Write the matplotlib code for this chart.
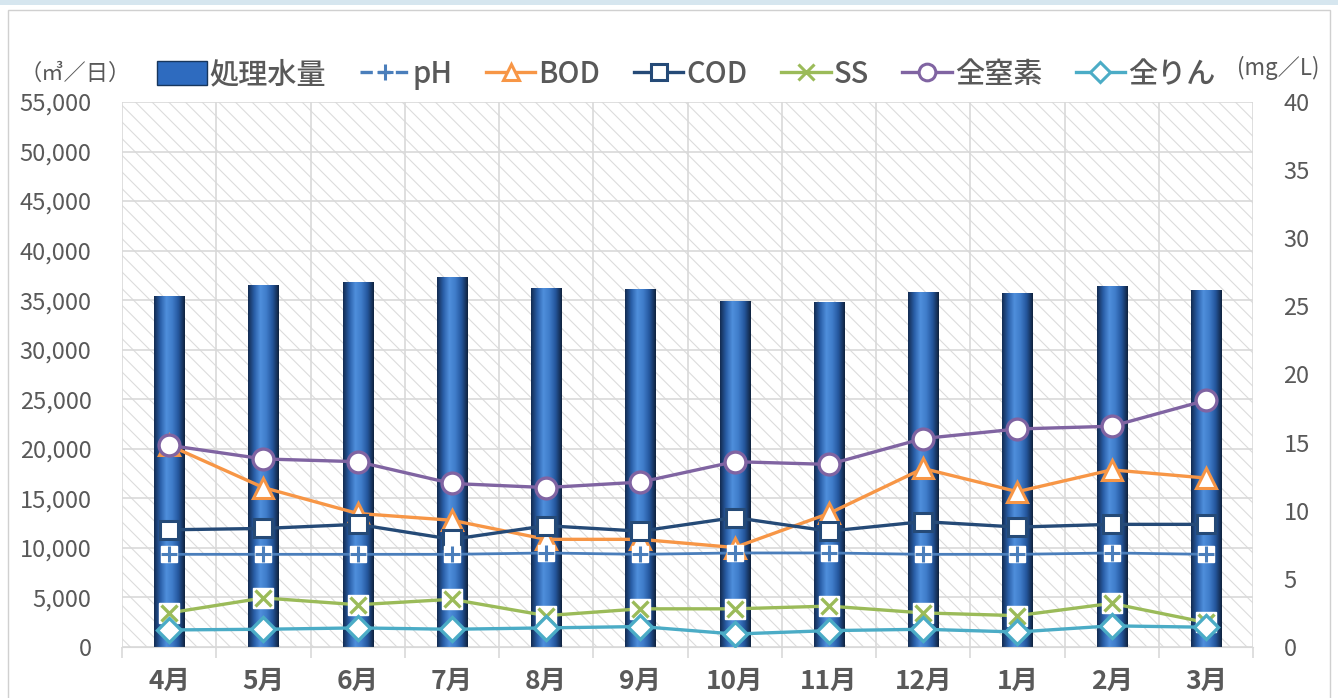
import matplotlib
matplotlib.use("Agg")
import matplotlib.pyplot as plt
import numpy as np
from matplotlib.patches import Rectangle, Patch
from matplotlib.lines import Line2D
from matplotlib.colors import LinearSegmentedColormap
from matplotlib.ticker import FuncFormatter, MultipleLocator

plt.rcParams['font.family'] = ['Noto Sans CJK JP', 'DejaVu Sans']
plt.rcParams['hatch.linewidth'] = 0.8

months = ['4月', '5月', '6月', '7月', '8月', '9月', '10月', '11月', '12月', '1月', '2月', '3月']
flow = [35400, 36500, 36800, 37300, 36200, 36100, 34900, 34800, 35800, 35700, 36400, 36000]
ph = [6.8, 6.8, 6.8, 6.8, 6.9, 6.8, 6.9, 6.9, 6.8, 6.8, 6.9, 6.8]
bod = [14.8, 11.7, 9.8, 9.3, 7.9, 7.9, 7.3, 9.8, 13.1, 11.4, 13.0, 12.4]
cod = [8.6, 8.7, 9.0, 7.9, 8.9, 8.5, 9.5, 8.5, 9.2, 8.8, 9.0, 9.0]
ss = [2.5, 3.6, 3.1, 3.5, 2.3, 2.8, 2.8, 3.0, 2.5, 2.3, 3.2, 1.8]
tn = [14.8, 13.8, 13.6, 12.0, 11.7, 12.1, 13.6, 13.4, 15.3, 16.0, 16.2, 18.1]
tp = [1.25, 1.3, 1.4, 1.3, 1.4, 1.5, 0.95, 1.2, 1.3, 1.1, 1.55, 1.45]

grey = '#595959'
gridc = '#d9d9d9'
c_ph = '#4a7ebb'
c_bod = '#f79646'
c_cod = '#254a77'
c_ss = '#9bbb59'
c_tn = '#8064a2'
c_tp = '#4bacc6'

fig = plt.figure(figsize=(13.38, 6.98), dpi=100)
# frame bits of the screenshot
fig.patches.append(Rectangle((0, 0.993), 1, 0.007, transform=fig.transFigure,
                             facecolor='#d6e6ef', edgecolor='none'))
fig.patches.append(Rectangle((0.006, -0.01), 0.988, 0.996, transform=fig.transFigure,
                             facecolor='none', edgecolor='#d0d0d0', lw=1))

ax = fig.add_axes([0.0912, 0.0731, 0.8453, 0.7808])
x = np.arange(len(months))

# hatched plot area
ax.add_patch(Rectangle((0, 0), 1, 1, transform=ax.transAxes, facecolor='white',
                       edgecolor='#dcdcdc', hatch='\\\\', lw=0, zorder=0))

bars = ax.bar(x, flow, width=0.32, color='#2e6bbf', edgecolor='#17365d', lw=0.5, zorder=2)
cyl = LinearSegmentedColormap.from_list('cyl', ['#132c52', '#2a5fa8', '#4f8fdc',
                                                '#3f7cc9', '#24569c', '#10233f'])
grad = np.linspace(0, 1, 64).reshape(1, -1)
for b in bars:
    im = ax.imshow(grad, extent=[b.get_x(), b.get_x() + b.get_width(), 0, b.get_height()],
                   aspect='auto', cmap=cyl, zorder=2.1)
    im.set_clip_path(b)

ax.set_xlim(-0.5, 11.5)
ax.set_ylim(0, 55000)
ax.yaxis.set_major_locator(MultipleLocator(5000))
ax.yaxis.set_major_formatter(FuncFormatter(lambda v, p: f'{int(v):,}'))
ax.set_xticks(x)
ax.set_xticklabels(months, fontsize=19, fontweight='bold', color=grey)
ax.set_xticks(np.arange(-0.5, 12, 1), minor=True)
ax.tick_params(axis='x', which='major', length=0, pad=15)
ax.tick_params(axis='x', which='minor', length=8, color=gridc, width=1.2)
ax.tick_params(axis='y', length=0, labelsize=17, labelcolor=grey, pad=22)
ax.grid(axis='y', color=gridc, lw=1.2, zorder=1)
ax.grid(axis='x', which='minor', color=gridc, lw=1.2, zorder=1)
for s in ax.spines.values():
    s.set_visible(False)
ax.spines['bottom'].set_visible(True)
ax.spines['bottom'].set_color(gridc)
ax.set_axisbelow(True)

ax2 = ax.twinx()
ax2.set_ylim(0, 40)
ax2.yaxis.set_major_locator(MultipleLocator(5))
ax2.tick_params(axis='y', length=0, labelsize=17, labelcolor=grey, pad=22)
for s in ax2.spines.values():
    s.set_visible(False)

lw = 2.4
# pH: white square with blue plus
ax2.plot(x, ph, color=c_ph, lw=2.0, zorder=3)
ax2.plot(x, ph, ls='none', marker='s', ms=12, mfc='white', mec='white', zorder=4)
ax2.plot(x, ph, ls='none', marker='+', ms=11, mew=2.2, mec=c_ph, zorder=5)
# BOD
ax2.plot(x, bod, color=c_bod, lw=lw, marker='^', ms=14, mfc='white', mec=c_bod, mew=2.2, zorder=3)
# COD
ax2.plot(x, cod, color=c_cod, lw=lw, marker='s', ms=13, mfc='white', mec=c_cod, mew=2.2, zorder=3)
# SS: white square with green x
ax2.plot(x, ss, color=c_ss, lw=lw, zorder=3)
ax2.plot(x, ss, ls='none', marker='s', ms=14, mfc='white', mec='white', zorder=4)
ax2.plot(x, ss, ls='none', marker='x', ms=12, mew=2.4, mec=c_ss, zorder=5)
# total nitrogen
ax2.plot(x, tn, color=c_tn, lw=lw, marker='o', ms=15, mfc='white', mec=c_tn, mew=2.4, zorder=6)
# total phosphorus
ax2.plot(x, tp, color=c_tp, lw=lw, marker='D', ms=12, mfc='white', mec=c_tp, mew=2.4, zorder=6)

handles = [
    Patch(facecolor='#2e6bbf', edgecolor='#17365d', label='処理水量'),
    Line2D([], [], color=c_ph, lw=2.4, ls='--', marker='+', ms=11, mew=2.2, label='pH'),
    Line2D([], [], color=c_bod, lw=lw, marker='^', ms=12, mfc='white', mec=c_bod, mew=2.2, label='BOD'),
    Line2D([], [], color=c_cod, lw=lw, marker='s', ms=11, mfc='white', mec=c_cod, mew=2.2, label='COD'),
    Line2D([], [], color=c_ss, lw=lw, marker='x', ms=11, mew=2.2, mec=c_ss, label='SS'),
    Line2D([], [], color=c_tn, lw=lw, marker='o', ms=12, mfc='white', mec=c_tn, mew=2.2, label='全窒素'),
    Line2D([], [], color=c_tp, lw=lw, marker='D', ms=10, mfc='white', mec=c_tp, mew=2.2, label='全りん'),
]
leg = fig.legend(handles=handles, loc='center', bbox_to_anchor=(0.513, 0.893), ncol=7,
                 frameon=False, prop={'size': 21, 'weight': 'medium'}, handlelength=1.7,
                 handleheight=0.9, handletextpad=0.1, columnspacing=1.15)
for t in leg.get_texts():
    t.set_color(grey)

fig.text(0.056, 0.895, '（㎥／日）', ha='center', va='center', fontsize=16, color=grey)
fig.text(0.955, 0.902, '(mg／L)', ha='center', va='center', fontsize=16, color=grey)

fig.savefig('out.png', dpi=100)
